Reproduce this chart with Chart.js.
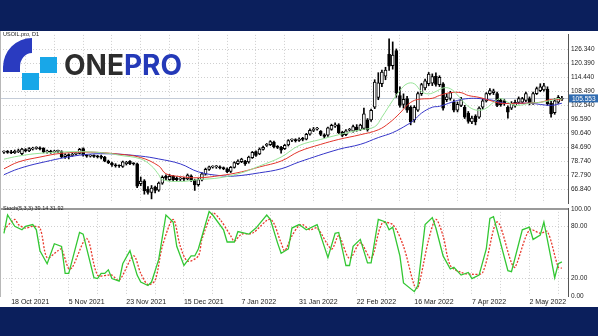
<!DOCTYPE html>
<html>
<head>
<meta charset="utf-8">
<script src="https://cdn.jsdelivr.net/npm/chart.js@4.4.1/dist/chart.umd.min.js"></script>
<style>
body { margin: 0; width: 598px; height: 336px; overflow: hidden; background: #fff; position: relative; font-family: "Liberation Sans", Arial, sans-serif; }
.band { position: absolute; left: 0; width: 598px; background: #0b1f5c; z-index: 5; }
#bandTop { top: 0; height: 31px; }
#bandBottom { top: 307px; height: 29px; }
#mainBox { position: absolute; left: 0; top: 28px; }
#stochBox { position: absolute; left: 0; top: 202px; }
.note { position: absolute; font-size: 5.5px; color: #222; z-index: 6; white-space: nowrap; }
#logo { position: absolute; left: 0; top: 0; z-index: 4; }
#brand { position: absolute; left: 64px; top: 51px; font-family: Inter, "Open Sans", sans-serif; font-weight: 700; font-size: 28px; line-height: 28px; z-index: 4; letter-spacing: 0; }
#brand .one { color: #2d2d2d; }
#brand .pro { color: #2439b8; }
#leftEdge { position: absolute; left: 0; top: 31px; width: 1px; height: 266px; background: #b8b8b8; z-index: 3; }
</style>
</head>
<body>
<div class="band" id="bandTop"></div>
<div class="band" id="bandBottom"></div>
<div id="leftEdge"></div>
<div id="mainBox"><canvas id="mainChart" width="598" height="182"></canvas></div>
<div id="stochBox"><canvas id="stochChart" width="598" height="108"></canvas></div>
<div class="note" style="left:3px;top:31px;">USOIL.pro, D1</div>
<div class="note" style="left:3px;top:205px;">Stoch(5,3,3) 39.14 31.92</div>
<svg id="logo" width="60" height="95">
  <path d="M3,72 L3,67 A29,29 0 0 1 32,38 L32,53 A12,14 0 0 0 20,67 L20,72 Z" fill="#2a3bc0"/>
  <rect x="40" y="57" width="17" height="16" fill="#18a7e8"/>
  <rect x="22" y="73" width="17" height="17" fill="#18a7e8"/>
</svg>
<div id="brand"><span class="one">ONE</span><span class="pro">PRO</span></div>
<script>
// daily candles, bar index 0..155
const opens = [
  82.7, 82.9, 82.8, 82.5, 82.9, 82.0, 83.8, 83.2, 84.0, 84.3,
  84.4, 84.3, 82.8, 83.1, 82.7, 83.0, 82.9, 80.8, 81.5, 81.3,
  81.8, 82.2, 84.2, 81.3, 81.0, 81.1, 80.9, 80.8, 80.5, 78.9,
  78.0, 77.3, 76.9, 76.6, 77.8, 78.8, 77.8, 77.7, 69.3, 70.5,
  67.0, 65.6, 67.8, 66.5, 69.5, 72.5, 71.0, 72.4, 71.5, 71.2,
  71.4, 71.3, 72.5, 70.7, 68.8, 70.9, 73.3, 75.3, 76.3, 76.4,
  76.4, 76.1, 75.6, 74.5, 76.2, 77.8, 78.6, 78.9, 78.5, 80.3,
  82.9, 81.9, 83.8, 85.6, 85.9, 87.0, 85.0, 84.7, 84.2, 85.8,
  87.8, 87.9, 87.7, 88.4, 88.2, 90.3, 91.9, 92.5, 91.5, 90.1,
  89.9, 92.4, 93.7, 94.3, 91.2, 90.1, 92.0, 91.6, 93.4, 92.2,
  92.8, 96.4, 96.4, 101.8, 106.0, 111.8, 115.0, 124.3, 119.5, 125.9,
  106.8, 103.0, 105.5, 101.8, 96.4, 100.5, 107.6, 110.0, 111.8, 112.0,
  115.0, 111.4, 111.8, 105.0, 105.5, 103.9, 100.5, 102.6, 101.8, 99.3,
  95.6, 98.0, 97.6, 101.8, 104.5, 107.6, 108.0, 107.6, 104.7, 104.5,
  101.8, 101.4, 102.4, 103.9, 104.0, 104.7, 105.5, 103.5, 107.6, 108.9,
  109.2, 109.5, 103.5, 99.5, 104.0, 105.2
];
const highs = [
  83.3, 83.4, 83.5, 83.6, 84.0, 84.3, 84.2, 84.6, 84.8, 85.0,
  84.9, 84.6, 83.6, 83.5, 83.5, 83.6, 83.3, 82.0, 82.0, 82.2,
  82.5, 84.3, 84.5, 81.7, 81.6, 81.5, 81.3, 81.4, 80.9, 79.3,
  78.5, 77.8, 77.3, 78.9, 78.8, 79.1, 78.2, 78.0, 72.1, 71.0,
  68.0, 68.5, 68.3, 70.0, 72.6, 73.0, 73.2, 72.8, 72.2, 71.9,
  72.0, 73.4, 73.0, 71.2, 71.5, 74.0, 75.9, 76.8, 76.9, 77.0,
  76.9, 76.4, 76.0, 76.6, 78.6, 79.4, 80.1, 79.2, 81.0, 83.0,
  83.2, 84.5, 85.3, 86.4, 87.6, 87.4, 85.5, 85.2, 86.0, 88.0,
  88.4, 88.4, 88.8, 89.0, 90.7, 92.6, 93.2, 93.3, 91.9, 90.5,
  93.4, 94.6, 95.2, 94.8, 91.6, 92.3, 92.8, 94.2, 94.4, 94.6,
  101.4, 97.0, 101.0, 113.5, 116.5, 117.6, 118.8, 130.9, 129.6, 126.6,
  110.5, 107.5, 106.4, 102.4, 102.5, 108.2, 112.0, 113.8, 116.6, 116.0,
  116.4, 115.2, 112.3, 107.6, 108.6, 105.0, 104.0, 106.0, 102.6, 100.0,
  98.0, 98.6, 102.0, 105.5, 108.0, 109.7, 109.5, 108.2, 105.5, 105.2,
  102.4, 104.2, 104.8, 106.2, 106.0, 108.2, 106.2, 108.3, 110.4, 111.8,
  112.0, 110.5, 104.3, 105.4, 106.8, 106.4
];
const lows = [
  82.2, 82.2, 82.0, 82.1, 82.5, 81.6, 82.8, 82.9, 83.6, 83.9,
  83.6, 82.4, 82.3, 82.2, 82.3, 82.5, 80.3, 80.0, 79.8, 80.9,
  81.5, 81.9, 81.0, 80.5, 80.6, 80.4, 80.2, 79.8, 78.6, 77.8,
  76.6, 76.3, 76.2, 76.2, 77.2, 77.4, 77.2, 67.6, 68.4, 64.8,
  64.8, 62.8, 65.3, 66.0, 69.0, 70.8, 70.5, 70.3, 70.3, 70.6,
  70.5, 70.9, 70.2, 66.4, 68.2, 70.4, 72.9, 74.9, 75.9, 75.8,
  75.6, 75.2, 74.0, 74.0, 75.9, 77.4, 78.2, 77.0, 78.0, 80.0,
  80.9, 81.6, 83.5, 85.1, 85.5, 84.5, 84.2, 82.3, 83.8, 85.3,
  87.2, 87.0, 87.3, 87.5, 87.9, 89.9, 91.4, 92.0, 89.7, 88.8,
  89.4, 92.0, 93.2, 90.6, 89.3, 89.7, 91.6, 91.2, 91.6, 91.9,
  92.3, 91.6, 95.8, 101.2, 105.0, 110.5, 113.5, 117.5, 118.0, 106.0,
  101.8, 101.5, 99.6, 94.3, 95.4, 100.0, 106.8, 109.2, 111.0, 111.0,
  110.8, 110.6, 100.6, 104.2, 104.8, 99.8, 99.8, 102.0, 97.0, 95.0,
  94.8, 94.3, 97.0, 101.0, 104.0, 107.0, 107.2, 102.0, 102.2, 102.6,
  97.2, 100.8, 101.8, 103.2, 103.5, 104.2, 102.8, 103.0, 107.2, 108.4,
  108.6, 102.6, 97.6, 98.8, 103.4, 104.6
];
const closes = [
  82.9, 82.6, 82.4, 83.0, 83.4, 84.0, 83.2, 84.2, 84.3, 84.5,
  84.1, 82.8, 83.2, 82.7, 83.0, 83.1, 80.7, 81.6, 81.2, 81.8,
  82.1, 83.9, 81.4, 81.0, 81.2, 80.9, 80.7, 80.5, 78.9, 78.2,
  77.3, 76.9, 76.8, 78.6, 78.4, 77.8, 77.7, 68.2, 70.4, 66.3,
  65.6, 67.4, 66.4, 69.5, 72.0, 71.6, 72.4, 71.0, 71.0, 71.4,
  71.2, 72.9, 70.7, 68.7, 71.0, 73.5, 75.4, 76.4, 76.4, 76.5,
  76.0, 75.7, 74.4, 76.2, 78.3, 78.9, 79.7, 77.7, 80.6, 82.6,
  81.3, 84.0, 84.7, 85.9, 87.2, 84.9, 84.7, 83.5, 85.6, 87.6,
  87.9, 87.6, 88.2, 88.1, 90.3, 92.0, 92.5, 92.6, 90.2, 89.4,
  93.0, 94.1, 94.3, 91.0, 89.8, 91.8, 92.2, 93.6, 92.0, 94.2,
  99.0, 92.2, 100.5, 112.5, 112.2, 116.8, 117.6, 119.3, 124.0, 108.0,
  102.6, 105.2, 100.5, 95.5, 101.8, 107.6, 111.4, 113.0, 115.9, 114.8,
  111.5, 114.5, 101.4, 106.2, 108.0, 100.5, 103.0, 104.9, 97.6, 95.8,
  97.2, 95.5, 101.4, 104.5, 107.6, 108.9, 108.8, 102.6, 102.8, 103.4,
  99.7, 103.5, 103.9, 105.5, 105.5, 107.6, 103.5, 107.6, 109.7, 110.5,
  110.9, 103.2, 99.0, 104.5, 106.0, 105.55
];
const lastPrice = 105.553;

// moving averages: bar index + value
const maFastIdx = [0, 4, 10, 21, 29, 32, 38, 41, 43, 44, 49, 54, 60, 66, 71, 77, 82, 88, 93, 99, 103, 105, 108, 110, 112, 114, 116, 118, 120, 122, 124, 126, 128, 130, 132, 134, 136, 138, 140, 142, 144, 146, 149, 152, 154, 155];
const maFast = [79.7, 81.0, 82.2, 82.9, 82.2, 81.4, 79.8, 76.8, 73.1, 71.0, 70.2, 71.0, 71.8, 73.9, 76.8, 80.6, 85.5, 88.1, 90.1, 92.2, 93.5, 97.6, 104.7, 108.9, 111.8, 111.8, 108.5, 107.5, 108.5, 110.0, 109.7, 107.0, 103.5, 101.2, 100.5, 101.4, 103.9, 105.5, 103.9, 102.6, 102.8, 103.5, 103.9, 104.7, 105.5, 104.9];
const maMidIdx = [0, 4, 10, 16, 24, 32, 38, 43, 45, 49, 54, 60, 66, 71, 77, 82, 88, 93, 99, 104, 107, 110, 112, 114, 116, 119, 121, 124, 127, 129, 132, 135, 138, 143, 149, 152, 155];
const maMid = [75.6, 78.5, 80.6, 82.2, 82.7, 81.8, 80.4, 76.8, 73.5, 72.3, 71.8, 72.7, 74.3, 76.4, 78.9, 83.0, 86.0, 88.1, 90.1, 92.2, 95.1, 99.3, 102.6, 104.7, 105.3, 105.6, 106.8, 108.0, 108.0, 106.8, 106.0, 104.7, 103.5, 103.5, 103.9, 105.1, 104.9];
const maSlowIdx = [0, 4, 10, 21, 29, 38, 43, 49, 54, 60, 64, 71, 77, 82, 93, 99, 104, 108, 112, 114, 116, 119, 121, 126, 129, 132, 136, 139, 146, 152, 155];
const maSlow = [73.1, 75.6, 78.1, 81.4, 82.0, 81.0, 79.8, 77.7, 74.3, 72.7, 72.5, 73.9, 75.6, 78.5, 83.9, 86.0, 88.9, 91.0, 94.3, 96.4, 99.3, 101.8, 102.2, 104.7, 105.5, 105.5, 104.7, 103.5, 103.5, 102.6, 103.5];

// stochastic (5,3,3): turning points, bar index + value
const stochKIdx = [0, 1, 3, 5, 6, 8, 9, 10, 12, 14, 16, 17, 18, 21, 22, 25, 26, 27, 28, 29, 30, 32, 33, 35, 37, 38, 40, 41, 43, 45, 47, 48, 50, 52, 53, 54, 57, 58, 61, 62, 64, 65, 68, 70, 73, 74, 76, 77, 79, 80, 82, 84, 87, 90, 92, 93, 95, 96, 97, 99, 101, 102, 104, 106, 107, 108, 110, 111, 114, 115, 117, 119, 120, 122, 124, 125, 127, 129, 130, 132, 134, 135, 136, 137, 140, 141, 144, 146, 147, 149, 150, 152, 153, 154, 155];
const stochK = [72, 93, 80, 76, 80, 82, 76, 52, 37, 60, 57, 26, 26, 73, 71, 21, 20, 26, 26, 30, 20, 17, 37, 52, 24, 16, 12, 16, 42, 93, 85, 57, 35, 46, 46, 54, 97, 93, 76, 62, 62, 74, 71, 78, 93, 88, 61, 49, 54, 78, 82, 76, 82, 44, 72, 73, 35, 35, 57, 65, 38, 38, 88, 85, 76, 79, 46, 15, 5, 12, 82, 90, 78, 46, 31, 33, 24, 27, 20, 24, 54, 89, 91, 76, 29, 28, 76, 79, 65, 70, 85, 43, 21, 37, 39.14];
const stochDIdx = [0, 3, 4, 6, 8, 10, 12, 15, 16, 18, 19, 23, 26, 29, 30, 32, 36, 38, 40, 42, 44, 47, 49, 51, 54, 55, 58, 60, 63, 64, 66, 69, 74, 77, 78, 80, 82, 83, 85, 87, 91, 93, 96, 99, 102, 105, 108, 111, 114, 115, 118, 120, 122, 124, 127, 130, 133, 137, 141, 142, 146, 149, 151, 154, 155];
const stochD = [76, 88, 82, 78, 80, 78, 44, 52, 54, 31, 33, 66, 24, 24, 24, 18, 46, 26, 13, 18, 57, 88, 57, 40, 46, 65, 95, 88, 69, 63, 71, 72, 88, 61, 52, 69, 81, 82, 76, 78, 54, 69, 43, 61, 43, 83, 82, 57, 12, 9, 65, 88, 69, 35, 27, 25, 27, 85, 38, 33, 76, 72, 74, 33, 31.92];

// axes
const priceTicks = [66.84, 72.79, 78.74, 84.69, 90.64, 96.59, 102.54, 108.49, 114.44, 120.39, 126.34];
const stochTicks = [0, 20, 80, 100];
const dateIdx = [2, 18, 34, 50, 66, 82, 98, 114, 130, 146];
const dateLabels = ['18 Oct 2021', '5 Nov 2021', '23 Nov 2021', '15 Dec 2021', '7 Jan 2022', '31 Jan 2022', '22 Feb 2022', '16 Mar 2022', '7 Apr 2022', '2 May 2022'];

const xMin = -1.1, xMax = 156.7;
const priceMin = 61.01, priceMax = 132.58;
const gridColor = '#cfcfcf';
const axisFont = {family: '"Liberation Sans", Arial, sans-serif', size: 6.5};

function toPoints(idx, vals) {
    return idx.map((x, k) => ({x: x, y: vals[k]}));
}

function setGridTicks(scale) {
    const ticks = [];
    for (let v = 2; v <= 155; v += 8) ticks.push({value: v});
    scale.ticks = ticks;
}

const lastPriceMark = {
    id: 'lastPriceMark',
    beforeDatasetsDraw(chart) {
        const {ctx, chartArea} = chart;
        const y = Math.round(chart.scales.y.getPixelForValue(lastPrice)) + 0.5;
        ctx.save();
        ctx.strokeStyle = '#c4ccd8';
        ctx.lineWidth = 1;
        ctx.beginPath();
        ctx.moveTo(chartArea.left, y);
        ctx.lineTo(chartArea.right, y);
        ctx.stroke();
        ctx.restore();
    },
    afterDraw(chart) {
        const {ctx, chartArea} = chart;
        const y = chart.scales.y.getPixelForValue(lastPrice);
        ctx.save();
        ctx.fillStyle = '#2f6bb0';
        ctx.fillRect(chartArea.right + 1, y - 4, 29, 8);
        ctx.fillStyle = '#fff';
        ctx.font = '6.5px "Liberation Sans", Arial, sans-serif';
        ctx.textBaseline = 'middle';
        ctx.fillText(lastPrice.toFixed(3), chartArea.right + 4, y + 0.5);
        ctx.restore();
    }
};

const mainChart = new Chart(document.getElementById('mainChart'), {
    type: 'bar',
    data: {
        datasets: [
            {type: 'line', data: toPoints(maFastIdx, maFast), borderColor: '#96e396', borderWidth: 1, pointRadius: 0, tension: 0.4, order: 0},
            {type: 'line', data: toPoints(maMidIdx, maMid), borderColor: '#e2352b', borderWidth: 1, pointRadius: 0, tension: 0.4, order: 0},
            {type: 'line', data: toPoints(maSlowIdx, maSlow), borderColor: '#3535c8', borderWidth: 1, pointRadius: 0, tension: 0.4, order: 0},
            {
                data: opens.map((o, i) => ({x: i, y: [o, closes[i]]})),
                backgroundColor: (c) => closes[c.dataIndex] >= opens[c.dataIndex] ? '#fff' : '#000',
                borderColor: '#000', borderWidth: 1, borderSkipped: false,
                barThickness: 3, minBarLength: 1, grouped: false, order: 1
            },
            {
                data: highs.map((h, i) => ({x: i, y: [lows[i], h]})),
                backgroundColor: '#000', barThickness: 1, grouped: false, order: 2
            }
        ]
    },
    options: {
        responsive: false,
        animation: false,
        layout: {padding: {top: 5, bottom: 5, left: 0, right: 0}},
        plugins: {legend: {display: false}, tooltip: {enabled: false}},
        scales: {
            x: {
                type: 'linear', min: xMin, max: xMax, offset: false,
                afterBuildTicks: setGridTicks,
                afterFit: (s) => { s.height = 0; },
                ticks: {display: false},
                grid: {color: gridColor, drawTicks: false},
                border: {display: false, dash: [1, 2]}
            },
            y: {
                position: 'right', min: priceMin, max: priceMax,
                afterBuildTicks: (s) => { s.ticks = priceTicks.map(v => ({value: v})); },
                afterFit: (s) => { s.width = 30; },
                ticks: {callback: (v) => v.toFixed(3), font: axisFont, color: '#222', padding: 3},
                grid: {color: gridColor, drawTicks: false},
                border: {display: true, color: '#555', width: 1, dash: [1, 2]}
            }
        }
    },
    plugins: [lastPriceMark]
});

const stochChart = new Chart(document.getElementById('stochChart'), {
    type: 'line',
    data: {
        datasets: [
            {data: toPoints(stochKIdx, stochK), borderColor: '#33c733', borderWidth: 1.3, pointRadius: 0, tension: 0},
            {data: toPoints(stochDIdx, stochD), borderColor: '#e8392c', borderWidth: 1.3, borderDash: [2, 1.5], pointRadius: 0, tension: 0.3}
        ]
    },
    options: {
        responsive: false,
        animation: false,
        layout: {padding: {top: 5, bottom: 0, left: 0, right: 0}},
        plugins: {legend: {display: false}, tooltip: {enabled: false}},
        scales: {
            x: {
                type: 'linear', min: xMin, max: xMax, offset: false,
                afterBuildTicks: setGridTicks,
                afterFit: (s) => { s.height = 14; },
                ticks: {
                    align: 'start', maxRotation: 0, autoSkip: false, padding: 2,
                    font: {family: '"Liberation Sans", Arial, sans-serif', size: 7}, color: '#222',
                    callback: (v) => { const k = dateIdx.indexOf(v); return k < 0 ? '' : dateLabels[k]; }
                },
                grid: {color: gridColor, drawTicks: false},
                border: {display: false, dash: [1, 2]}
            },
            y: {
                position: 'right', min: 0, max: 100,
                afterBuildTicks: (s) => { s.ticks = stochTicks.map(v => ({value: v})); },
                afterFit: (s) => { s.width = 30; },
                ticks: {callback: (v) => v.toFixed(2), font: axisFont, color: '#222', padding: 3},
                grid: {
                    color: (c) => c.tick.value === 100 ? '#9a9a9a' : (c.tick.value === 0 ? 'rgba(0,0,0,0)' : gridColor),
                    lineWidth: (c) => c.tick.value === 100 ? 2 : 1,
                    drawTicks: false
                },
                border: {display: true, color: '#555', width: 1, dash: (c) => c.tick && c.tick.value === 100 ? [] : [1, 2]}
            }
        }
    }
});
</script>
</body>
</html>
